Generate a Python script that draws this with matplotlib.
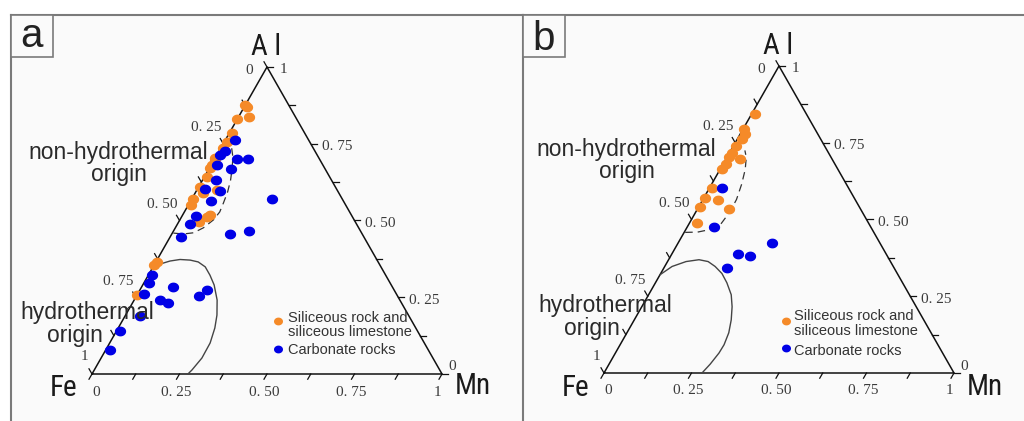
import numpy as np
import matplotlib
matplotlib.use("Agg")
import matplotlib.pyplot as plt
from matplotlib import font_manager as fm
from matplotlib.path import Path
from matplotlib.patches import Rectangle

# compositions: Al and Mn fractions (Fe = 1 - Al - Mn)
a_orange_al = [0.876, 0.870, 0.837, 0.831, 0.785, 0.757, 0.736, 0.703, 0.700, 0.681, 0.671, 0.642,
               0.609, 0.590, 0.599, 0.570, 0.550, 0.511, 0.518, 0.495, 0.365, 0.355, 0.257]
a_orange_mn = [0.000, 0.008, 0.030, 0.000, 0.007, 0.006, 0.006, 0.000, 0.001, 0.002, 0.002, 0.008,
               0.004, 0.022, 0.057, 0.004, 0.008, 0.073, 0.078, 0.058, 0.003, 0.000, 0.000]
a_blue_al = [0.762, 0.727, 0.713, 0.700, 0.700, 0.681, 0.668, 0.632, 0.603, 0.596, 0.564, 0.570, 0.515, 0.489,
             0.446, 0.456, 0.466, 0.322, 0.296, 0.261, 0.283, 0.241, 0.231, 0.254, 0.274, 0.189, 0.140, 0.078]
a_blue_mn = [0.028, 0.016, 0.009, 0.064, 0.096, 0.017, 0.063, 0.038, 0.022, 0.068, 0.058, 0.229, 0.040, 0.036,
             0.031, 0.166, 0.216, 0.010, 0.015, 0.019, 0.089, 0.073, 0.101, 0.179, 0.192, 0.043, 0.010, 0.012]

b_orange_al = [0.845, 0.794, 0.778, 0.761, 0.740, 0.718, 0.702, 0.696, 0.680, 0.663, 0.604, 0.569,
               0.562, 0.541, 0.533, 0.489]
b_orange_mn = [0.010, 0.004, 0.014, 0.013, 0.007, 0.008, 0.006, 0.040, 0.008, 0.006, 0.007, 0.004,
               0.045, 0.005, 0.090, 0.022]
b_blue_al = [0.604, 0.476, 0.422, 0.389, 0.380, 0.342]
b_blue_mn = [0.034, 0.076, 0.270, 0.189, 0.226, 0.181]

# field boundaries
a_dash_al = [0.459, 0.456, 0.460, 0.476, 0.502, 0.528, 0.557, 0.593, 0.632, 0.671, 0.707, 0.736]
a_dash_mn = [0.003, 0.033, 0.060, 0.080, 0.096, 0.101, 0.097, 0.091, 0.080, 0.065, 0.049, 0.031]
a_hydro_al = [0.350, 0.358, 0.368, 0.373, 0.371, 0.365, 0.349, 0.322, 0.290, 0.241, 0.192, 0.150,
              0.101, 0.052, 0.013, 0.0]
a_hydro_mn = [0.000, 0.015, 0.039, 0.065, 0.095, 0.121, 0.149, 0.176, 0.204, 0.237, 0.261, 0.276,
              0.287, 0.288, 0.279, 0.274]
b_dash_al = [0.458, 0.459, 0.467, 0.484, 0.523, 0.565, 0.614, 0.663, 0.703, 0.725]
b_dash_mn = [0.003, 0.038, 0.068, 0.091, 0.097, 0.096, 0.086, 0.072, 0.055, 0.040]
b_hydro_al = [0.320, 0.347, 0.363, 0.369, 0.363, 0.347, 0.324, 0.294, 0.255, 0.216, 0.173, 0.131,
              0.092, 0.065, 0.029, 0.0]
b_hydro_mn = [0.000, 0.021, 0.053, 0.087, 0.116, 0.144, 0.175, 0.204, 0.236, 0.258, 0.277, 0.291,
              0.297, 0.296, 0.289, 0.280]

tick_vals = [0, 0.25, 0.5, 0.75, 1]
tick_text = ["0", "0. 25", "0. 50", "0. 75", "1"]
legend_labels = ["Siliceous rock and", "siliceous limestone", "Carbonate rocks"]
field_labels = ["non-hydrothermal\norigin", "hydrothermal\norigin    "]

ORANGE = "#f58a28"
BLUE = "#0000e6"
S3 = np.sqrt(3) / 2
SX, SY = 350.0, 354.5  # pixels per data unit
W, H = 1024, 421

SANS = "Liberation Sans"
SERIF = "Liberation Serif"


def pick_narrow():
    fonts = fm.fontManager.ttflist
    names = {f.name for f in fonts}
    for n in ["Liberation Sans Narrow", "Roboto Condensed", "Open Sans Condensed", "Noto Sans Condensed"]:
        if n in names:
            return dict(family=n)
    if any(f.name == "DejaVu Sans" and "condensed" in str(f.stretch) for f in fonts):
        return dict(family="DejaVu Sans", fontstretch="condensed")
    if any(f.name == "Roboto" and "condensed" in str(f.stretch) for f in fonts):
        return dict(family="Roboto", fontstretch="condensed")
    return dict(family="Roboto")


NARROW = pick_narrow()

th = np.linspace(0, 2 * np.pi, 40)
DOT = Path(np.c_[1.15 * np.cos(th), np.sin(th)])


def tern(al, mn):
    al = np.asarray(al, float); mn = np.asarray(mn, float)
    return mn + al / 2, al * S3


def off(dx, dy):
    # pixel offset (y down) -> points
    return (dx * 0.72, -dy * 0.72)


def rel(dx, dy):
    # pixel offset from Fe vertex -> data coords
    return dx / SX, -dy / SY


def draw_panel(left_px, fe, letter, orange, blue, dash, hydro, lay):
    fx, fy = fe
    ax = plt.gcf().add_axes([left_px / W, 0, 512 / W, (H - 15) / H])
    ax.set_xlim((left_px - fx) / SX, (left_px + 512 - fx) / SX)
    ax.set_ylim((fy - H) / SY, (fy - 15) / SY)
    ax.set_facecolor("#fafafa")
    ax.set_xticks([]); ax.set_yticks([])
    for s in ["right", "bottom"]:
        ax.spines[s].set_visible(False)
    for s in ["left", "top"]:
        ax.spines[s].set_color("#7a7a7a"); ax.spines[s].set_linewidth(1.5)

    # label box
    ax.add_patch(Rectangle((0, 1 - 42 / 406), 42 / 512, 42 / 406, transform=ax.transAxes,
                           facecolor="#fafafa", edgecolor="#7a7a7a", lw=1.2, zorder=5))
    ax.text(21 / 512, 1 - lay["letter_base"] / 406, letter, transform=ax.transAxes, ha="center",
            va="baseline", fontsize=29, family=SANS, color="#222222", zorder=6)

    # triangle
    ax.plot([0, 1, 0.5, 0], [0, 0, S3, 0], color="#111111", lw=1.1, zorder=2)
    tl = 6
    for k in range(9):
        t = k / 8
        ax.plot([t, t - 0.5 * tl / SX], [0, -S3 * tl / SY], color="#111111", lw=0.9)
        al = 1 - t
        ax.plot([al / 2, al / 2 - 0.5 * tl / SX], [al * S3, al * S3 + S3 * tl / SY], color="#111111", lw=0.9)
        ax.plot([1 - t / 2, 1 - t / 2 + tl / SX], [t * S3, t * S3], color="#111111", lw=0.9)

    tk = dict(fontsize=11, family=SERIF, color="#3a3a3a", textcoords="offset points", va="center")
    for v, s in zip(tick_vals, tick_text):
        d = (-3, 18) if 0 < v < 1 else ((4, 18) if v == 0 else (-5, 18))
        ax.annotate(s, (v, 0), xytext=off(*d), ha="center", **tk)
        al = 1 - v
        d = (-2, -16) if 0 < v < 1 else ((-14, 4) if v == 0 else (-4, -17))
        ax.annotate(s, (al / 2, al * S3), xytext=off(*d), ha="right", **tk)
        d = (11, 3) if 0 < v < 1 else ((6, -7) if v == 0 else (13, 3))
        ax.annotate(s, (1 - v / 2, v * S3), xytext=off(*d), ha="left", **tk)

    vk = dict(fontsize=21, color="#1a1a1a", textcoords="offset points", ha="center", va="center",
              fontweight="normal", **NARROW)
    ax.annotate("A l", (0.5, S3), xytext=off(-1, -20), **vk)
    ax.annotate("Fe", (0, 0), xytext=off(-28, lay["fe_dy"]), **vk)
    ax.annotate("Mn", (1, 0), xytext=off(31, lay["mn_dy"]), **vk)

    # field boundaries
    x, y = tern(*dash)
    ax.plot(x, y, color="#333333", lw=0.9, dashes=(6, 4), zorder=3)
    x, y = tern(*hydro)
    ax.plot(x, y, color="#444444", lw=1.0, zorder=3)

    # anchored on the baseline of the second line
    for txt, key, ls in zip(field_labels, ["nh", "h"], [0.92, 0.98]):
        ax.text(*rel(*lay[key]), txt, fontsize=16.5, family=SANS, color="#2a2a2a", ha="center",
                va="baseline", multialignment="center", linespacing=ls, zorder=7)

    # samples
    x, y = tern(*orange)
    ax.scatter(x, y, s=66, marker=DOT, color=ORANGE, lw=0, zorder=4)
    x, y = tern(*blue)
    ax.scatter(x, y, s=66, marker=DOT, color=BLUE, lw=0, zorder=5)

    # legend
    mx, m1, m2 = lay["leg_mx"], lay["leg_m1"], lay["leg_m2"]
    ax.scatter(*rel(mx, m1), s=42, marker=DOT, color=ORANGE, lw=0, zorder=6)
    ax.scatter(*rel(mx, m2), s=42, marker=DOT, color=BLUE, lw=0, zorder=6)
    for txt, yb in zip(legend_labels, lay["leg_base"]):
        ax.text(*rel(lay["leg_tx"], yb), txt, fontsize=10.5, family=SANS, color="#333333",
                ha="left", va="baseline", zorder=7)
    return ax


def main():
    fig = plt.figure(figsize=(W / 100, H / 100), dpi=100)
    fig.patch.set_facecolor("white")
    lay_a = dict(letter_base=32, fe_dy=14, mn_dy=12, nh=(26.5, -193), h=(-4.5, -32),
                 leg_mx=186.5, leg_m1=-53.3, leg_m2=-24.7, leg_tx=196, leg_base=[-52.3, -38, -20])
    lay_b = dict(letter_base=35, fe_dy=15, mn_dy=14, nh=(22.5, -195), h=(1, -38),
                 leg_mx=182, leg_m1=-52.3, leg_m2=-24.7, leg_tx=190, leg_base=[-53, -38, -18])
    draw_panel(11, (92, 374), "a", (a_orange_al, a_orange_mn), (a_blue_al, a_blue_mn),
               (a_dash_al, a_dash_mn), (a_hydro_al, a_hydro_mn), lay_a)
    draw_panel(523, (604, 373), "b", (b_orange_al, b_orange_mn), (b_blue_al, b_blue_mn),
               (b_dash_al, b_dash_mn), (b_hydro_al, b_hydro_mn), lay_b)
    fig.savefig("out.png", dpi=100)


if __name__ == "__main__":
    main()
